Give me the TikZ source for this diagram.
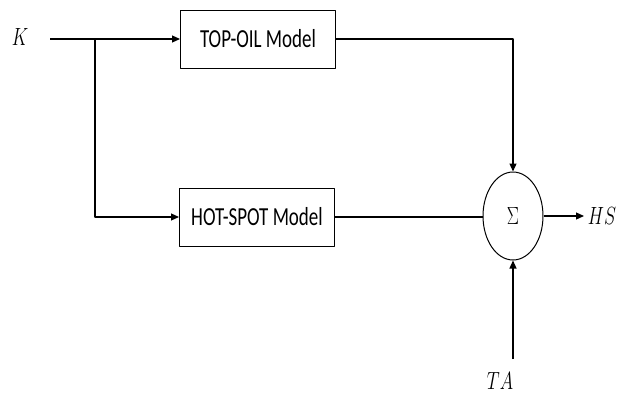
\documentclass[tikz,border=0pt]{standalone}
\usepackage{graphicx}
\usepackage{fontspec}
\setmainfont{Carlito}
\usetikzlibrary{positioning,arrows.meta,shapes.geometric}
\newcommand{\squeeze}[1]{\scalebox{0.73}[1]{#1}}
\tikzset{
  block/.style={draw,line width=1pt,minimum width=155pt,minimum height=58pt,inner sep=2pt},
  sumnode/.style={draw,line width=1pt,ellipse,minimum width=60pt,minimum height=88pt,inner sep=0pt},
  signal/.style={font=\fontsize{25}{28}\selectfont}
}
\begin{document}
\begin{tikzpicture}[x=1pt,y=-1pt,>={Triangle[length=8pt,width=7pt]},line width=1.2pt,line join=round,font=\fontsize{26}{30}\selectfont]
	\useasboundingbox (0,0) rectangle (619,394);
	% blocks
	\node [block] (top) at (258,39) {\squeeze{TOP-OIL Model}};
	\node [block] (hot) at (257,217) {\squeeze{HOT-SPOT Model}};
	\node [sumnode,signal] (sum) at (513,216) {\squeeze{$\Sigma$}};
	% inputs and outputs
	\node [signal] (k) at (20,37) {\squeeze{$K$}};
	\node [signal,anchor=west] (hs) at (584,216) {\squeeze{$HS$}};
	\node [signal] (ta) at (500,381) {\squeeze{$TA$}};
	\coordinate (kin) at (50,39);
	\coordinate (split) at (95,39);
	\coordinate (tain) at (513,359);
	% connectors
	\draw [->] (kin) -- (top.west);
	\draw [->] (split) |- (hot.west);
	\draw [->] (top.east) -| (sum.north);
	\draw (hot.east) -- (hot.east -| sum.west);
	\draw [->] (sum.east) -- (hs.west);
	\draw [->] (tain) -- (sum.south);
\end{tikzpicture}
\end{document}
